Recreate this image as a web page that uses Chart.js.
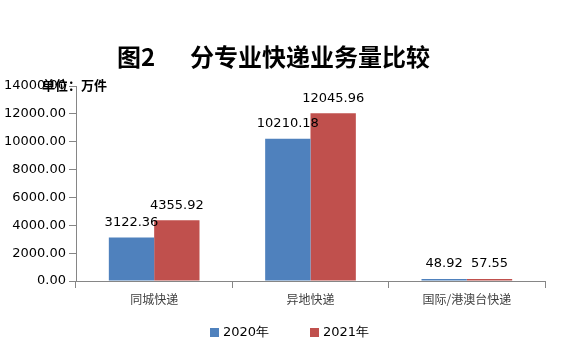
<!DOCTYPE html>
<html>
<head>
<meta charset="utf-8">
<script src="https://cdn.jsdelivr.net/npm/chart.js@4"></script>
<style>
  html, body { margin: 0; padding: 0; background: #ffffff; }
  #wrap { width: 573px; height: 355px; }
</style>
</head>
<body>
<div id="wrap"><canvas id="c" width="573" height="355"></canvas></div>
<script>
const categories = ["同城快递", "异地快递", "国际/港澳台快递"];
const years = ["2020年", "2021年"];
const values2020 = [3122.36, 10210.18, 48.92];
const values2021 = [4355.92, 12045.96, 57.55];
const yTicks = [0, 2000, 4000, 6000, 8000, 10000, 12000, 14000];

const BLUE = "#4F81BD";
const RED = "#C0504D";
const AXIS = "#868686";
const NUM_FONT = "DejaVu Sans";
const CJK_FONT = "'Noto Sans CJK SC'";

// 标题、单位、柱顶数值和图例
const extras = {
  id: "extras",
  afterDatasetsDraw(chart) {
    const ctx = chart.ctx;
    ctx.save();
    ctx.fillStyle = "#000";
    ctx.textBaseline = "middle";
    ctx.textAlign = "center";
    chart.data.datasets.forEach((ds, i) => {
      const meta = chart.getDatasetMeta(i);
      ctx.font = "13px " + NUM_FONT;
      meta.data.forEach((bar, j) => {
        ctx.fillText(ds.data[j].toFixed(2), bar.x, bar.y - 15);
      });
    });

    // 标题
    ctx.textAlign = "left";
    ctx.font = "bold 24px " + CJK_FONT;
    ctx.fillText("图2", 117, 57);
    ctx.fillText("分专业快递业务量比较", 190, 57);

    // 单位
    ctx.font = "bold 13px " + CJK_FONT;
    ctx.fillText("单位：万件", 42, 85);

    // 图例
    const legX = [210, 310];
    chart.data.datasets.forEach((ds, i) => {
      ctx.fillStyle = ds.backgroundColor;
      ctx.fillRect(legX[i], 328, 9, 9);
      ctx.fillStyle = "#000";
      ctx.font = "13px " + NUM_FONT;
      ctx.fillText(ds.label, legX[i] + 13, 333);
    });
    ctx.restore();
  }
};

new Chart(document.getElementById("c"), {
  type: "bar",
  data: {
    labels: categories,
    datasets: [
      { label: years[0], data: values2020, backgroundColor: BLUE },
      { label: years[1], data: values2021, backgroundColor: RED }
    ]
  },
  options: {
    responsive: false,
    animation: false,
    layout: { padding: { top: 86, right: 28, bottom: 39, left: 0 } },
    datasets: { bar: { categoryPercentage: 0.58, barPercentage: 1.0, minBarLength: 2 } },
    scales: {
      x: {
        grid: { offset: true, drawOnChartArea: false, tickLength: 7, color: AXIS },
        border: { color: AXIS },
        ticks: { color: "#404040", font: { family: CJK_FONT, size: 12 }, padding: 4 },
        afterFit(s) { s.height = 35; }
      },
      y: {
        min: 0,
        max: 14000,
        afterBuildTicks(s) { s.ticks = yTicks.map(v => ({ value: v })); },
        grid: { drawOnChartArea: false, tickLength: 7, color: AXIS },
        border: { color: AXIS },
        ticks: {
          color: "#000",
          font: { family: NUM_FONT, size: 13 },
          padding: 3,
          callback: v => v.toFixed(2)
        },
        afterFit(s) { s.width = 76; }
      }
    },
    plugins: {
      legend: { display: false },
      tooltip: { enabled: false }
    }
  },
  plugins: [extras]
});
</script>
</body>
</html>
